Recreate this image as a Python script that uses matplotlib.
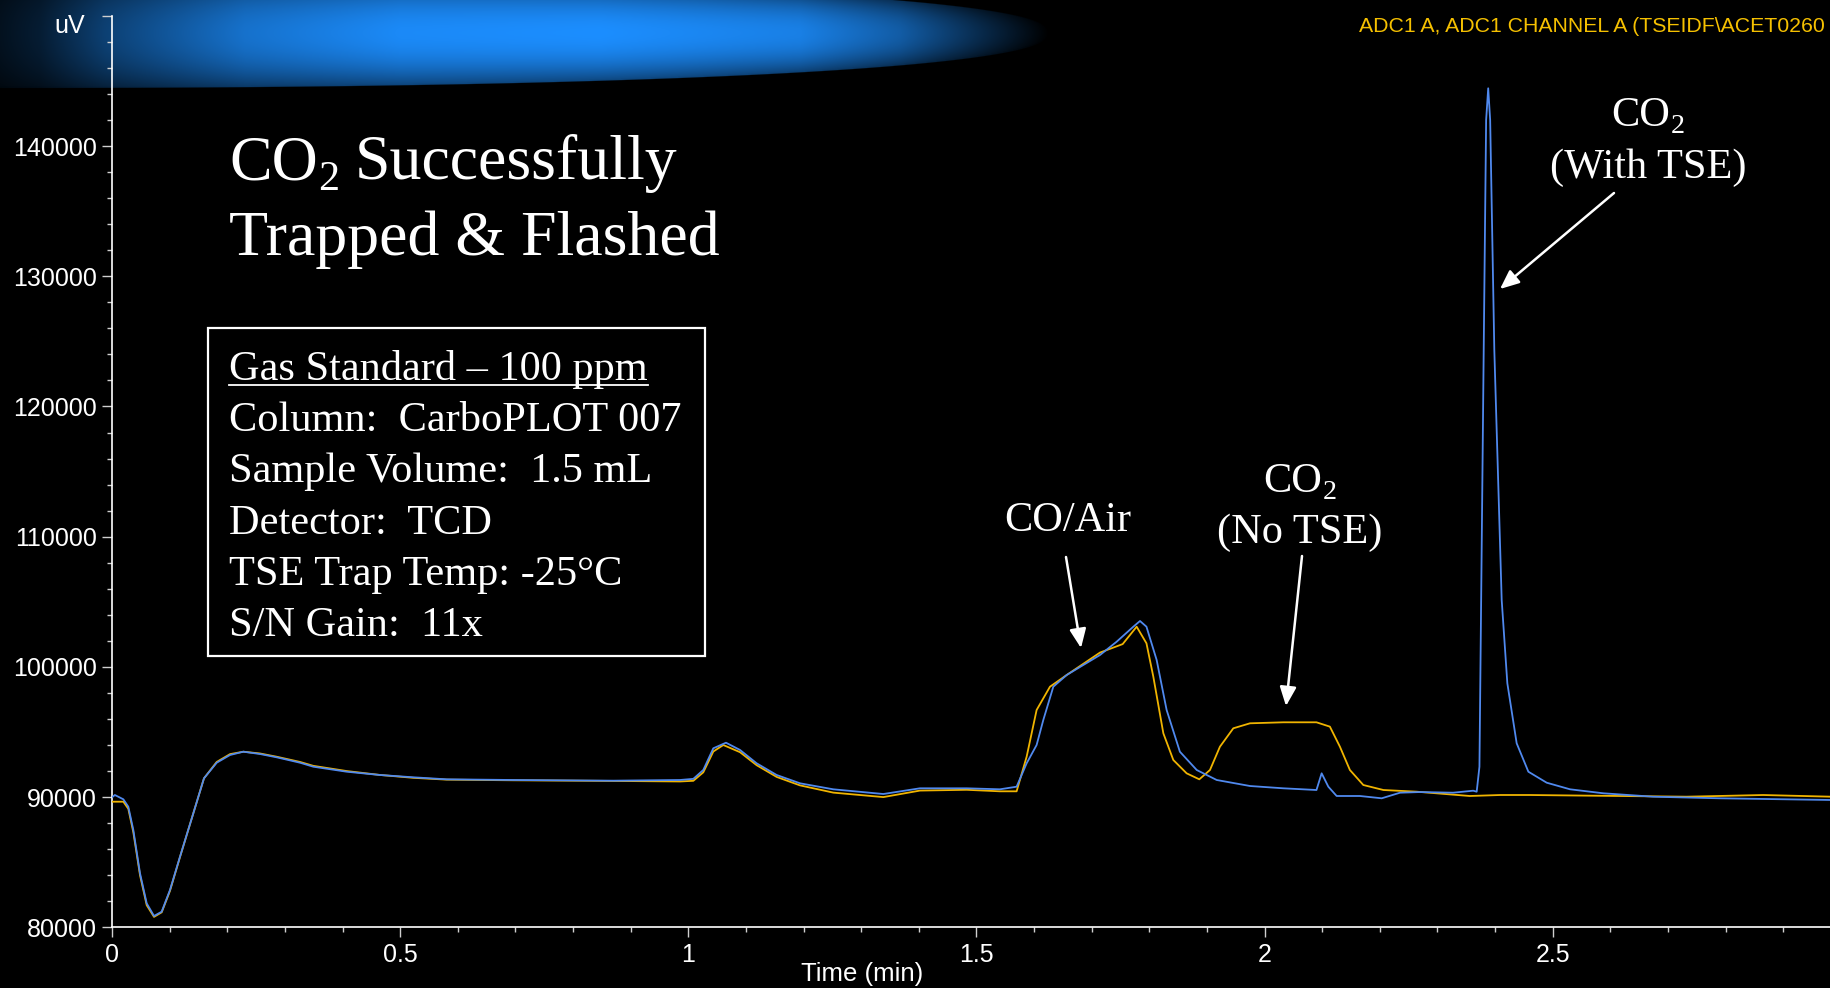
import numpy as np
import matplotlib
matplotlib.use("Agg")
import matplotlib.pyplot as plt
from matplotlib.patches import FancyArrowPatch, Rectangle
from matplotlib.lines import Line2D

# ---------------- data ----------------
time_blue = [0.0, 0.005, 0.0197, 0.0283, 0.037, 0.0486, 0.0602, 0.0729, 0.0862, 0.1006,
             0.118, 0.1411, 0.1596, 0.1817, 0.2048, 0.2279, 0.2568, 0.2858, 0.3262, 0.3493,
             0.4072, 0.465, 0.5228, 0.5807, 0.6964, 0.870, 0.9856, 1.0087, 1.026, 1.0434,
             1.0654, 1.0897, 1.1186, 1.1533, 1.1938, 1.2516, 1.3384, 1.402, 1.483, 1.5408,
             1.5697, 1.5871, 1.6044, 1.616, 1.6334, 1.6566, 1.6854, 1.7144, 1.7433, 1.7722,
             1.7838, 1.795, 1.8127, 1.83, 1.853, 1.8822, 1.9169, 1.9747, 2.0325, 2.090,
             2.099, 2.1106, 2.125, 2.1655, 2.2032, 2.235, 2.2696, 2.327, 2.362, 2.368,
             2.3728, 2.3755, 2.3802, 2.3844, 2.388, 2.3914, 2.3986, 2.4114, 2.4212, 2.4374,
             2.4577, 2.4895, 2.530, 2.588, 2.674, 2.790, 2.983]
signal_blue = [89984, 90160, 89830, 89262, 87473, 84147, 81843, 80868, 81198, 82865,
               85422, 88755, 91443, 92641, 93233, 93486, 93309, 93056, 92641, 92334,
               91950, 91697, 91520, 91365, 91313, 91260, 91313, 91400, 92081, 93747,
               94177, 93620, 92595, 91697, 91059, 90598, 90237, 90675, 90675, 90598,
               90798, 92595, 94000, 95921, 98479, 99377, 100145, 100913, 101934, 103086,
               103524, 103086, 100529, 96689, 93486, 92081, 91313, 90851, 90675, 90544,
               91827, 90798, 90084, 90084, 89907, 90337, 90388, 90337, 90491, 90414,
               92334, 104000, 124337, 142000, 144435, 142000, 124337, 105137, 98739, 94131,
               91950, 91105, 90598, 90291, 90030, 89907, 89777]

time_yellow = [0.0, 0.0197, 0.0283, 0.037, 0.0486, 0.0602, 0.0729, 0.0862, 0.1006, 0.118,
               0.1411, 0.1596, 0.1817, 0.2048, 0.2279, 0.2568, 0.2858, 0.3262, 0.3493, 0.4072,
               0.465, 0.5228, 0.5807, 0.6964, 0.870, 0.9856, 1.0087, 1.026, 1.0434, 1.0607,
               1.0897, 1.1186, 1.1533, 1.1938, 1.2516, 1.3384, 1.402, 1.483, 1.5408, 1.5697,
               1.5871, 1.6044, 1.6276, 1.6566, 1.7144, 1.7537, 1.778, 1.795, 1.8069, 1.8243,
               1.8416, 1.8647, 1.8867, 1.9052, 1.9225, 1.9457, 1.9747, 2.0325, 2.090, 2.1133,
               2.1307, 2.148, 2.1713, 2.2061, 2.264, 2.356, 2.4085, 2.460, 2.617, 2.732,
               2.865, 2.983]
signal_yellow = [89646, 89646, 89100, 87300, 84000, 81700, 80800, 81150, 82800, 85400,
                 88755, 91443, 92700, 93300, 93486, 93350, 93100, 92700, 92400, 92000,
                 91700, 91480, 91340, 91290, 91240, 91200, 91250, 91900, 93500, 94000,
                 93450, 92450, 91550, 90900, 90343, 90000, 90500, 90560, 90444, 90444,
                 93102, 96689, 98479, 99377, 101100, 101750, 103086, 101811, 99250, 94899,
                 92850, 91826, 91365, 92081, 93870, 95283, 95667, 95744, 95744, 95410,
                 93870, 92081, 90928, 90544, 90414, 90084, 90160, 90160, 90084, 90030,
                 90160, 90030]

x_ticks = [0, 0.5, 1, 1.5, 2, 2.5]
x_tick_labels = ["0", "0.5", "1", "1.5", "2", "2.5"]
y_ticks = [80000, 90000, 100000, 110000, 120000, 130000, 140000, 150000]
y_tick_labels = ["80000", "90000", "100000", "110000", "120000", "130000", "140000", ""]

header_text = "ADC1 A, ADC1 CHANNEL A (TSEIDF\\ACET0260"
title_line1 = [("CO", False), ("2", True), (" Successfully", False)]
title_line2 = "Trapped & Flashed"
box_lines = ["Gas Standard \u2013 100 ppm", "Column:  CarboPLOT 007",
             "Sample Volume:  1.5 mL", "Detector:  TCD",
             "TSE Trap Temp: -25\u00b0C", "S/N Gain:  11x"]
co2_parts = [("CO", False), ("2", True)]

# ---------------- styling ----------------
W, H = 1831, 988
BLUE = "#5089ee"
YELLOW = "#f0b400"
SANS = ["Liberation Sans", "DejaVu Sans"]
SERIF = ["Liberation Serif", "DejaVu Serif"]

fig = plt.figure(figsize=(W / 100, H / 100), dpi=100, facecolor="black")
renderer = fig.canvas.get_renderer()


def fx(X):
    return X / W


def fy(Y):
    return 1 - Y / H


def rich_text(X, Y, parts, fs, ha="left"):
    """Text with subscripts; X,Y in pixels (top-left origin), Y = baseline."""
    sub_fs = fs * 0.66
    drop = fs * 100 / 72 * 0.17
    space_w = fs * 100 / 72 * 0.25
    objs, widths = [], []
    for s, is_sub in parts:
        lead = len(s) - len(s.lstrip(" "))
        t = fig.text(0, 0, s.lstrip(" "), ha="left", va="baseline", color="white",
                     fontsize=sub_fs if is_sub else fs, family=SERIF)
        w = t.get_window_extent(renderer).width
        objs.append((t, is_sub, lead))
        widths.append(w + lead * space_w)
    total = sum(widths)
    x = X - total / 2 if ha == "center" else X
    for (t, is_sub, lead), w in zip(objs, widths):
        t.set_position((fx(x + lead * space_w), fy(Y + (drop if is_sub else 0))))
        x += w


# ---------------- background gradient swoosh ----------------
bg = fig.add_axes([0, 0, 1, 1])
bg.set_zorder(0)
gw, gh = 1100, 100
xs = np.arange(gw) + 0.5
ys = np.arange(gh) + 0.5
Xg, Yg = np.meshgrid(xs, ys)
a_tip, cy, b_half, pw = 1049.0, 33.0, 55.0, 2.3
u = np.clip(Xg / a_tip, 0, 1)
hh = b_half * np.clip(1 - u ** pw, 0, None) ** (1 / pw)
dist = np.abs(Yg - cy)
alpha = np.clip((hh - dist) / 1.2 + 0.5, 0, 1)
alpha[Xg > a_tip] = 0
vv = dist / np.maximum(hh, 1e-6)
Ix = np.interp(Xg, [0, 40, 105, 245, 400, 600, 800, 900, 980, 1049],
               [0.12, 0.2, 0.45, 0.8, 0.97, 1.0, 0.9, 0.65, 0.3, 0.0])
gfac = np.clip(1 - 0.5 * vv ** 2, 0, 1)
inten = Ix * gfac
base = np.array([28, 142, 255]) / 255.0
img = np.zeros((gh, gw, 4))
img[..., :3] = base * inten[..., None]
img[..., 3] = alpha
bg.imshow(img, extent=[0, gw, gh, 0], interpolation="bilinear", aspect="auto")
bg.set_xlim(0, W)
bg.set_ylim(H, 0)
bg.axis("off")

# ---------------- main chart ----------------
x0px, y0px = 112.0, 927.3
px_per_min = 576.3
px_per_unit = 1 / 76.8
xmax = (W - x0px) / px_per_min
ymin, ymax = 80000, 150000
top_px = y0px - (ymax - ymin) * px_per_unit
ax = fig.add_axes([fx(x0px), fy(y0px), 1 - fx(x0px), (y0px - top_px) / H])
ax.set_zorder(1)
ax.set_facecolor("none")

ax.plot(time_yellow, signal_yellow, color=YELLOW, lw=1.3, zorder=3)
ax.plot(time_blue, signal_blue, color=BLUE, lw=1.3, zorder=4)

ax.set_xlim(0, xmax)
ax.set_ylim(ymin, ymax)
for s in ["top", "right"]:
    ax.spines[s].set_visible(False)
for s in ["left", "bottom"]:
    ax.spines[s].set_color("white")
    ax.spines[s].set_linewidth(1.2)

ax.set_xticks(x_ticks)
ax.set_xticklabels(x_tick_labels, fontfamily=SANS)
ax.set_yticks(y_ticks)
ax.set_yticklabels(y_tick_labels, fontfamily=SANS)
ax.set_xticks(np.arange(0, 3.0, 0.1), minor=True)
ax.set_yticks(np.arange(80000, 150001, 2000), minor=True)
ax.tick_params(which="major", length=7, width=1, color="#cfcfcf",
               labelcolor="white", labelsize=18, pad=4, direction="out")
ax.tick_params(which="minor", length=3.5, width=1, color="#cfcfcf", direction="out")

# axis texts
fig.text(fx(70), fy(26), "uV", ha="center", va="center", color="white",
         fontsize=18, family=SANS)
fig.text(fx(862), fy(974), "Time (min)", ha="center", va="center", color="white",
         fontsize=18.5, family=SANS)
fig.text(fx(1359), fy(27), header_text, ha="left", va="center", color="#f5c000",
         fontsize=15.3, family=SANS)

# title
rich_text(229, 179, title_line1, 46, ha="left")
fig.text(fx(229), fy(255), title_line2, ha="left", va="baseline", color="white",
         fontsize=46, family=SERIF)

# info box
fig.add_artist(Rectangle((fx(208), fy(656)), fx(705) - fx(208), fy(328) - fy(656),
                         transform=fig.transFigure, fill=False, edgecolor="white",
                         linewidth=1.6))
box_texts = []
for i, line in enumerate(box_lines):
    t = fig.text(fx(229), fy(380 + i * 51.2), line, ha="left", va="baseline",
                 color="white", fontsize=30.5, family=SERIF)
    box_texts.append(t)

# annotations
fig.text(fx(1068), fy(531), "CO/Air", ha="center", va="baseline", color="white",
         fontsize=30.5, family=SERIF)
rich_text(1300, 492, co2_parts, 30.5, ha="center")
fig.text(fx(1300), fy(543), "(No TSE)", ha="center", va="baseline", color="white",
         fontsize=30.5, family=SERIF)
rich_text(1648, 126, co2_parts, 30.5, ha="center")
fig.text(fx(1648), fy(177.5), "(With TSE)", ha="center", va="baseline", color="white",
         fontsize=30.5, family=SERIF)

arrows = [((1066, 557), (1081, 648)),
          ((1302, 556), (1286, 706)),
          ((1614, 193), (1500, 289))]
for (sx, sy), (ex, ey) in arrows:
    arr = FancyArrowPatch((fx(sx), fy(sy)), (fx(ex), fy(ey)), transform=fig.transFigure,
                          arrowstyle="-|>,head_length=1.15,head_width=0.5",
                          mutation_scale=10, color="white", lw=1.8,
                          shrinkA=0, shrinkB=0)
    fig.add_artist(arr)

# underline first box line
bb = box_texts[0].get_window_extent(renderer)
fig.add_artist(Line2D([bb.x0 / W, bb.x1 / W], [fy(385), fy(385)],
                      transform=fig.transFigure, color="white", lw=1.3))

fig.savefig("out.png", dpi=100, facecolor="black")
